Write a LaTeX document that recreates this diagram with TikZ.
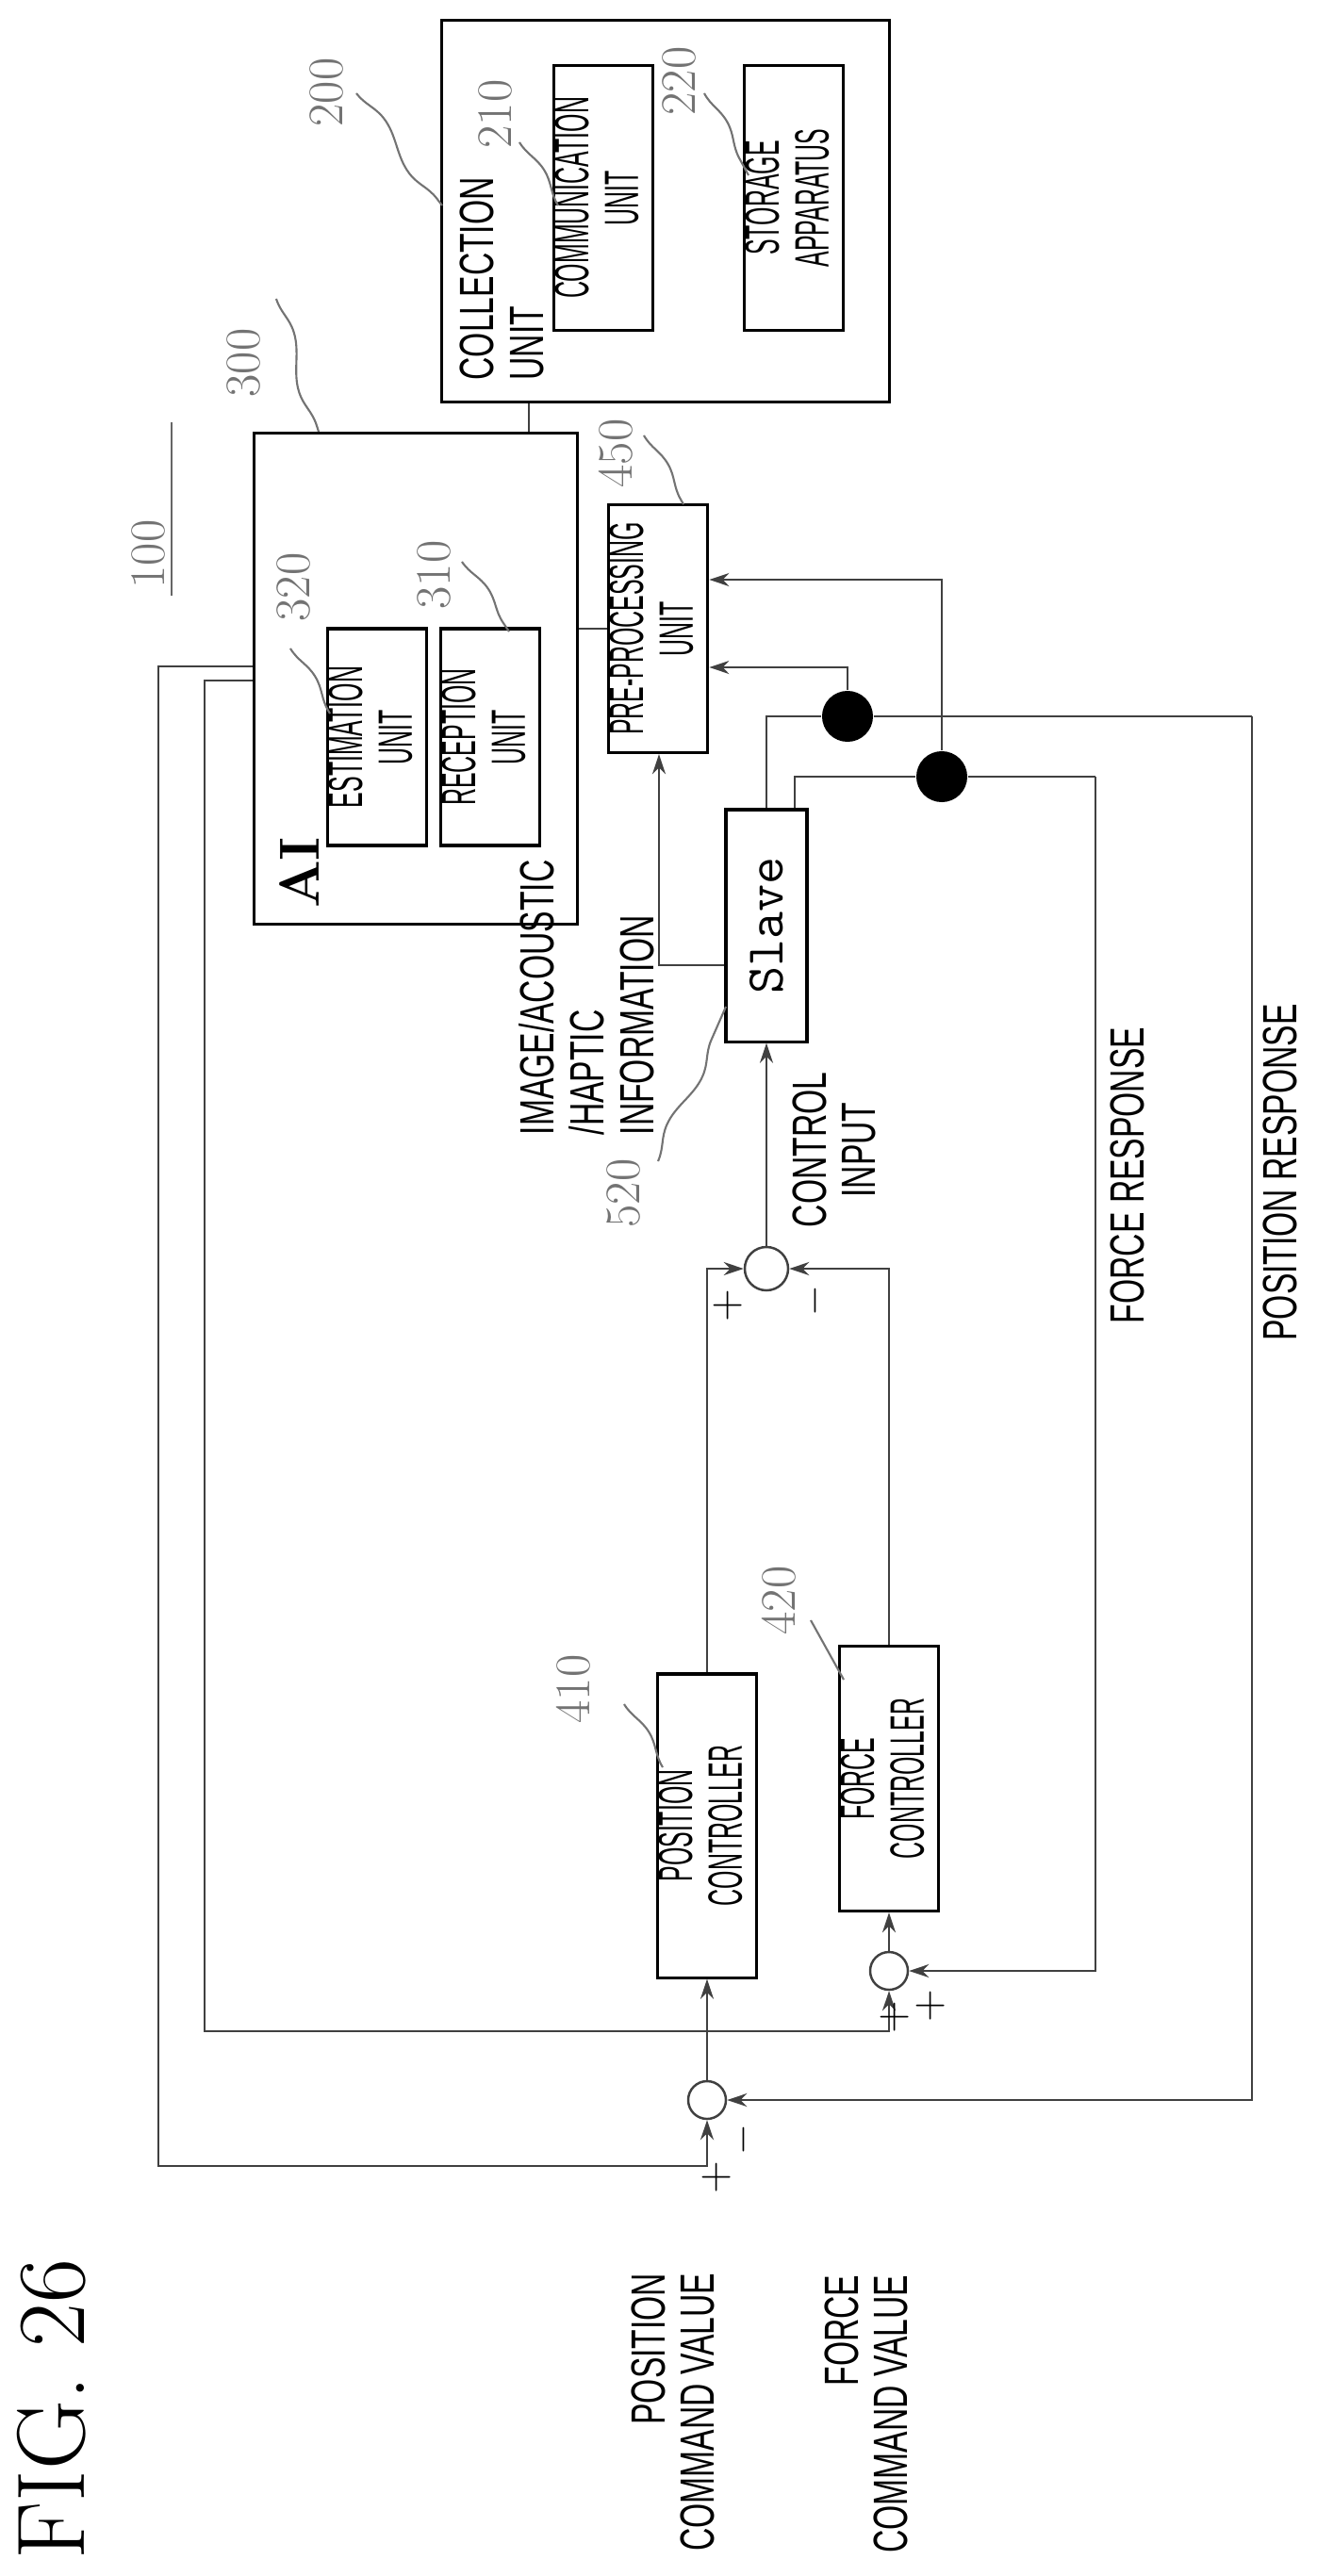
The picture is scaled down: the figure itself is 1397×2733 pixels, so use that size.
\documentclass[tikz,border=0pt]{standalone}
\usepackage{fontspec}
\usetikzlibrary{arrows.meta,calc,decorations.pathmorphing}
\newfontfamily\condfont[FakeStretch=0.66]{Liberation Sans}
\newcommand{\rotlines}[2][c]{\rotatebox{90}{\begin{tabular}{@{}#1@{}}#2\end{tabular}}}
\newcommand{\boxlines}[1]{\rotatebox{90}{\scalebox{0.74}[1]{\begin{tabular}{@{}c@{}}#1\end{tabular}}}}
\tikzset{
  box/.style={ % plain block of the loop
    draw, rectangle, line width=0.9pt, inner sep=0pt,
    font=\condfont\fontsize{14.5}{15}\selectfont
  },
  lbl/.style={ % upper case sans caption
    font=\condfont\fontsize{14.5}{15}\selectfont, inner sep=0pt
  },
  refno/.style={ % grey reference numeral
    font=\fontsize{15}{15}\selectfont, text=black!55, inner sep=0pt, rotate=90
  },
  leader/.style={
    black!55, line width=0.6pt, decorate,
    decoration={snake, segment length=1.25cm, amplitude=0.07cm}
  },
  wire/.style={black!75, line width=0.6pt},
  arr/.style={wire, -{Stealth[length=6pt,width=4pt]}},
  summer/.style={draw, circle, black!75, line width=0.7pt, inner sep=0pt},
  dot/.style={circle, fill=black, inner sep=0pt, minimum size=0.54cm},
  sgn/.style={font=\fontsize{13}{13}\selectfont, inner sep=0pt, rotate=90}
}
\begin{document}
\begin{tikzpicture}[x=0.01cm, y=-0.01cm]
  \useasboundingbox (0,0) rectangle (1397,2733);

  % collection side
  \node[box, minimum width=4.74cm, minimum height=4.04cm] (coll) at (706,224) {};
  \node[lbl, anchor=south west] (coll_text) at (486,404) {\rotlines[l]{COLLECTION\\UNIT}};
  \node[box, minimum width=0.96cm, minimum height=2.81cm] (comm) at (640,210) {\boxlines{COMMUNICATION\\UNIT}};
  \node[box, minimum width=0.97cm, minimum height=2.81cm] (store) at (842,210) {\boxlines{STORAGE\\APPARATUS}};

  % AI side
  \node[box, minimum width=3.42cm, minimum height=5.2cm] (ai) at (441,720) {};
  \node[inner sep=0pt, font=\bfseries\fontsize{17}{17}\selectfont, rotate=90] (ai_text) at (318,926) {AI};
  \node[box, minimum width=0.99cm, minimum height=2.3cm] (est) at (400,782) {\boxlines{ESTIMATION\\UNIT}};
  \node[box, minimum width=0.95cm, minimum height=2.3cm] (rec) at (520,782) {\boxlines{RECEPTION\\UNIT}};
  \node[box, minimum width=0.98cm, minimum height=2.63cm] (pre) at (698,667) {\boxlines{PRE-PROCESSING\\UNIT}};
  \node[box, minimum width=0.86cm, minimum height=2.46cm, font=\ttfamily\fontsize{16}{16}\selectfont] (slave) at (813,982) {\rotatebox{90}{Slave}};

  % controllers
  \node[box, minimum width=0.96cm, minimum height=3.22cm] (pctrl) at (750,1937) {\boxlines{POSITION\\CONTROLLER}};
  \node[box, minimum width=0.96cm, minimum height=2.81cm] (fctrl) at (943,1887) {\boxlines{FORCE\\CONTROLLER}};
  \node[summer, minimum size=0.46cm] (sumc) at (813,1346) {};
  \node[summer, minimum size=0.40cm] (sumf) at (943,2091) {};
  \node[summer, minimum size=0.40cm] (sump) at (750,2228) {};
  \node[dot] (dotp) at (899,760) {};
  \node[dot] (dotf) at (999,824) {};

  % turning points
  \coordinate (ptop) at (813,760);
  \coordinate (pright) at (1328,760);
  \coordinate (ftop) at (843,824);
  \coordinate (fright) at (1162,824);

  \draw[wire] (coll.south -| 561,0) -- (ai.north -| 561,0);
  \draw[wire] (ai.east |- pre.west) -- (pre.west);
  \draw[arr] (slave.west |- 0,1024) -- (699,1024) -- (pre.south -| 699,0);
  \draw[wire] (slave.north) -- (ptop) -- (dotp) -- (pright);
  \draw[arr] (pright) -- (pright |- sump) -- (sump.east);
  \draw[wire] (slave.north -| ftop) -- (ftop) -- (dotf) -- (fright);
  \draw[arr] (fright) -- (fright |- sumf) -- (sumf.east);
  \draw[arr] (dotp) -- (dotp |- 0,708) -- (pre.east |- 0,708);
  \draw[arr] (dotf) -- (dotf |- 0,615) -- (pre.east |- 0,615);
  \draw[arr] (ai.west |- 0,707) -- (168,707) -- (168,2298) -- (sump.south |- 0,2298) -- (sump.south);
  \draw[arr] (ai.west |- 0,722) -- (217,722) -- (217,2155) -- (sumf.south |- 0,2155) -- (sumf.south);
  \draw[arr] (sump) -- (pctrl.south);
  \draw[arr] (sumf) -- (fctrl.south);
  \draw[arr] (pctrl.north) -- (pctrl.north |- sumc) -- (sumc.west);
  \draw[arr] (fctrl.north) -- (fctrl.north |- sumc) -- (sumc.east);
  \draw[arr] (sumc.north) -- (slave.south);

  % signs
  \node[sgn] (sc_plus) at (772,1385) {+};
  \node[sgn] (sc_minus) at (865,1380) {$-$};
  \node[sgn] (sf_plus1) at (949,2140) {+};
  \node[sgn] (sf_plus2) at (987,2128) {+};
  \node[sgn] (sp_plus) at (760,2310) {+};
  \node[sgn] (sp_minus) at (789,2270) {$-$};

  % captions
  \node[lbl] (ctrl_in) at (892,1220) {\rotlines{CONTROL\\INPUT}};
  \node[lbl, anchor=south] (info) at (630,1205) {\rotlines[l]{IMAGE/ACOUSTIC\\/HAPTIC\\INFORMATION}};
  \node[lbl] (f_resp) at (1196,1247) {\rotatebox{90}{FORCE RESPONSE}};
  \node[lbl] (p_resp) at (1358,1244) {\rotatebox{90}{POSITION RESPONSE}};
  \node[lbl, anchor=north] (p_cmd) at (721,2411) {\rotlines[r]{POSITION\\COMMAND VALUE}};
  \node[lbl, anchor=north] (f_cmd) at (926,2413) {\rotlines[r]{FORCE\\COMMAND VALUE}};
  \node[inner sep=0pt, font=\fontsize{29}{29}\selectfont, rotate=90] (fig) at (55,2556) {FIG. 26};

  % reference numerals
  \node[refno] (n100) at (157,588) {100};
  \draw[black!60, line width=0.8pt] (182,448) -- (182,632);
  \node[refno] (n200) at (346,98) {200};
  \node[refno] (n210) at (525,121) {210};
  \node[refno] (n220) at (720,86) {220};
  \node[refno] (n300) at (258,385) {300};
  \node[refno] (n320) at (311,623) {320};
  \node[refno] (n310) at (460,610) {310};
  \node[refno] (n450) at (653,481) {450};
  \node[refno] (n410) at (608,1792) {410};
  \node[refno] (n420) at (826,1698) {420};
  \node[refno] (n520) at (661,1266) {520};
  \draw[leader] (378,99) -- (469,218);
  \draw[leader] (551,151) -- (592,218);
  \draw[leader] (747,99) -- (794,186);
  \draw[leader] (293,317) -- (338,458);
  \draw[leader] (308,688) -- (350,757);
  \draw[leader] (490,596) -- (540,670);
  \draw[leader] (683,462) -- (725,535);
  \draw[leader] (662,1808) -- (703,1875);
  \draw[leader] (860,1719) -- (895,1782);
  \draw[leader] (698,1232) -- (770,1068);
\end{tikzpicture}
\end{document}
